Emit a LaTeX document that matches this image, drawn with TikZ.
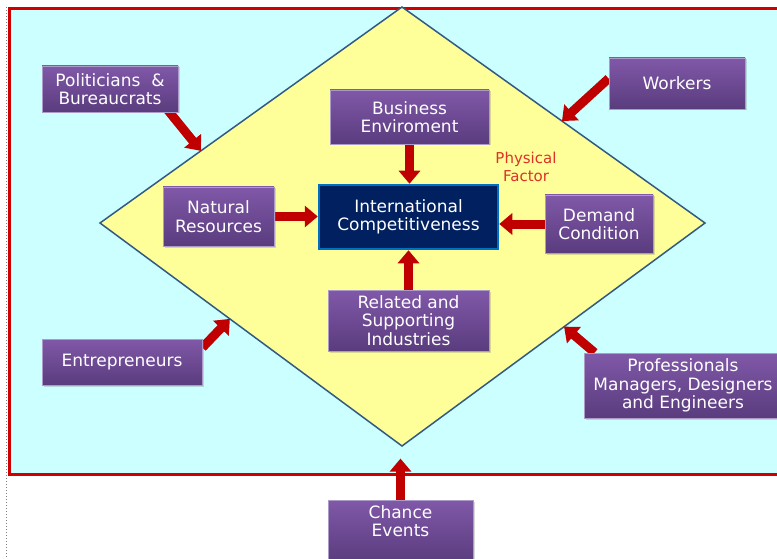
\documentclass[tikz,border=0pt]{standalone}
\usepackage{fontspec}
\setmainfont{DejaVu Sans}
\usetikzlibrary{calc,shadows,arrows.meta,positioning}
\definecolor{sky}{RGB}{204,255,255}
\definecolor{lemon}{RGB}{255,255,153}
\definecolor{edgeb}{RGB}{50,90,130}
\definecolor{frame}{RGB}{208,0,0}
\definecolor{arr}{RGB}{192,0,0}
\definecolor{ptop}{RGB}{128,88,168}
\definecolor{pbot}{RGB}{90,60,126}
\definecolor{pline}{RGB}{170,155,200}
\definecolor{navy}{RGB}{0,32,96}
\definecolor{cblue}{RGB}{0,112,192}
\definecolor{factor}{RGB}{220,50,40}
\pgfdeclarelayer{back}
\pgfdeclarelayer{links}
\pgfsetlayers{back,links,main}

\begin{document}
\begin{tikzpicture}[x=1pt,y=-1pt,
  box/.style={draw=pline, line width=0.8pt, top color=ptop, bottom color=pbot, text=white, align=center,
    font=\fontsize{17}{18.5}\selectfont, drop shadow={shadow xshift=1.5pt, shadow yshift=-1.5pt, opacity=0.3}},
  core/.style={draw=cblue, line width=2.5pt, fill=navy, text=white, align=center, font=\fontsize{17}{18.5}\selectfont},
  arrow/.style={-{Triangle[length=13pt,width=21pt]}, line width=9pt, draw=arr}
]
\useasboundingbox (0,0) rectangle (777,559);
\begin{pgfonlayer}{back}
\draw[gray, dotted, line width=1pt] (6.5,7) -- (6.5,559);
\draw[frame, line width=3pt, fill=sky] (9.5,8.5) rectangle (800,474);
\coordinate (T) at (402,7);
\coordinate (L) at (100,223);
\coordinate (R) at (705,223);
\coordinate (B) at (402,446);
\draw[edgeb, line width=1.5pt, fill=lemon, line join=miter] (T) -- (R) -- (B) -- (L) -- cycle;
\end{pgfonlayer}

% diamond
\node[box, minimum width=159pt, minimum height=54pt] (bus) at (409.5,117) {Business\\Enviroment};
\node[core, minimum width=179pt, minimum height=64pt] (ic) at (408.5,217) {International\\Competitiveness};
\node[box, minimum width=111pt, minimum height=59pt] (nat) at (218.5,216.5) {Natural\\Resources};
\node[box, minimum width=108pt, minimum height=58pt] (dem) at (599,224) {Demand\\Condition};
\node[box, minimum width=161pt, minimum height=61pt] (rel) at (408.5,320.5) {Related and\\Supporting\\Industries};
\node[text=factor, align=center, font=\fontsize{15}{18}\selectfont] (phy) at (526,167) {Physical\\Factor};

% outside actors
\node[box, minimum width=136pt, minimum height=46pt] (pol) at (110,89) {Politicians~~\&\\Bureaucrats};
\node[box, minimum width=136pt, minimum height=51pt] (wrk) at (677,83.5) {Workers};
\node[box, minimum width=160pt, minimum height=46pt] (ent) at (122,362) {Entrepreneurs};
\node[box, minimum width=198pt, minimum height=65pt] (pro) at (683,385.5) {Professionals\\Managers, Designers\\and Engineers};
\node[box, minimum width=145pt, minimum height=62pt, text depth=20pt] (chn) at (400.5,531) {Chance\\Events};

\coordinate (polEnd) at ($(L)!0.334!(T)$);
\coordinate (wrkEnd) at ($(T)!0.528!(R)$);
\coordinate (entEnd) at ($(L)!0.43!(B)$);
\coordinate (proEnd) at ($(R)!0.465!(B)$);

\begin{pgfonlayer}{links}
\draw[arrow] (bus.south) -- (bus.south |- ic.north);
\draw[arrow] (nat.east) -- (nat.east -| ic.west);
\draw[arrow] (dem.west) -- (dem.west -| ic.east);
\draw[arrow] (rel.north) -- (rel.north |- ic.south);
\draw[arrow] ([xshift=-12pt,yshift=4pt]pol.south east) -- (polEnd);
\draw[arrow] ([yshift=5pt]wrk.west) -- (wrkEnd);
\draw[arrow] ([yshift=-9pt]ent.north east) -- (entEnd);
\draw[arrow] ([xshift=11pt]pro.north west) -- (proEnd);
\draw[arrow] (chn.north) -- ([yshift=41pt]chn.north);
\end{pgfonlayer}
\end{tikzpicture}
\end{document}
